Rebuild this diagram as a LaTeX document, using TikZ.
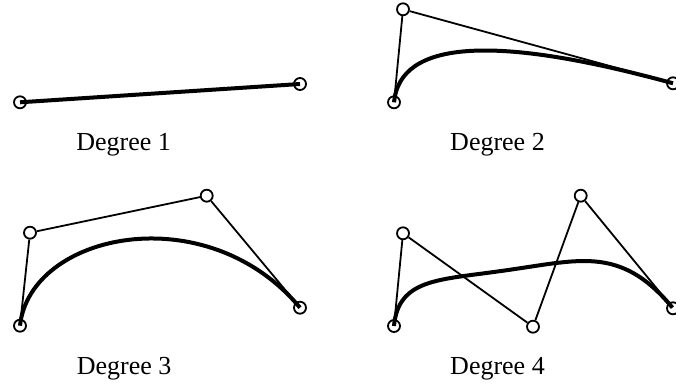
\documentclass[tikz,border=0pt]{standalone}
\usepackage{fontspec}
\setmainfont{Liberation Serif}
\usetikzlibrary{calc}
\begin{document}
\begin{tikzpicture}[x=1pt,y=-1pt,
  cp/.style={circle,draw,fill=white,line width=1.8pt,minimum size=12pt,inner sep=0pt},
  poly/.style={line width=1.8pt},
  curve/.style={line width=4pt},
  lbl/.style={anchor=base,font=\fontsize{26}{30}\selectfont,inner sep=0pt}]
\useasboundingbox (0,0) rectangle (676,385);
% Degree 1
\node[cp] (a0) at (20,102.3) {};
\node[cp] (a1) at (300,84) {};
\draw[curve] (a0.center) -- (a1.center);
\node[lbl] (l1) at (123.7,150) {Degree 1};
% Degree 2
\node[cp] (b0) at (394,102.3) {};
\node[cp] (b1) at (403,9.3) {};
\node[cp] (b2) at (673,83.3) {};
\draw[poly] (b0) -- (b1) -- (b2);
\draw[curve] (b0.center) .. controls ($(b0.center)!2/3!(b1.center)$) and ($(b2.center)!2/3!(b1.center)$) .. (b2.center);
\node[lbl] (l2) at (497.5,150) {Degree 2};
% Degree 3
\node[cp] (c0) at (20,325.7) {};
\node[cp] (c1) at (30,232.7) {};
\node[cp] (c2) at (206.7,195.7) {};
\node[cp] (c3) at (300,307.7) {};
\draw[poly] (c0) -- (c1) -- (c2) -- (c3);
\draw[curve] (c0.center) .. controls (c1.center) and (c2.center) .. (c3.center);
\node[lbl] (l3) at (124.2,374) {Degree 3};
% Degree 4
\node[cp] (d0) at (394,326) {};
\node[cp] (d1) at (403,233.3) {};
\node[cp] (d2) at (533,326.7) {};
\node[cp] (d3) at (580.7,195.7) {};
\node[cp] (d4) at (673,308.3) {};
\draw[poly] (d0) -- (d1) -- (d2) -- (d3) -- (d4);
\draw[curve,line join=round] plot[domain=0:1,samples=100,variable=\t]
  ({(1-\t)^4*394 + 4*(1-\t)^3*\t*403 + 6*(1-\t)^2*\t^2*533 + 4*(1-\t)*\t^3*580.7 + \t^4*673},
   {(1-\t)^4*326 + 4*(1-\t)^3*\t*233.3 + 6*(1-\t)^2*\t^2*326.7 + 4*(1-\t)*\t^3*195.7 + \t^4*308.3});
\node[lbl] (l4) at (497.5,374) {Degree 4};
\end{tikzpicture}
\end{document}
